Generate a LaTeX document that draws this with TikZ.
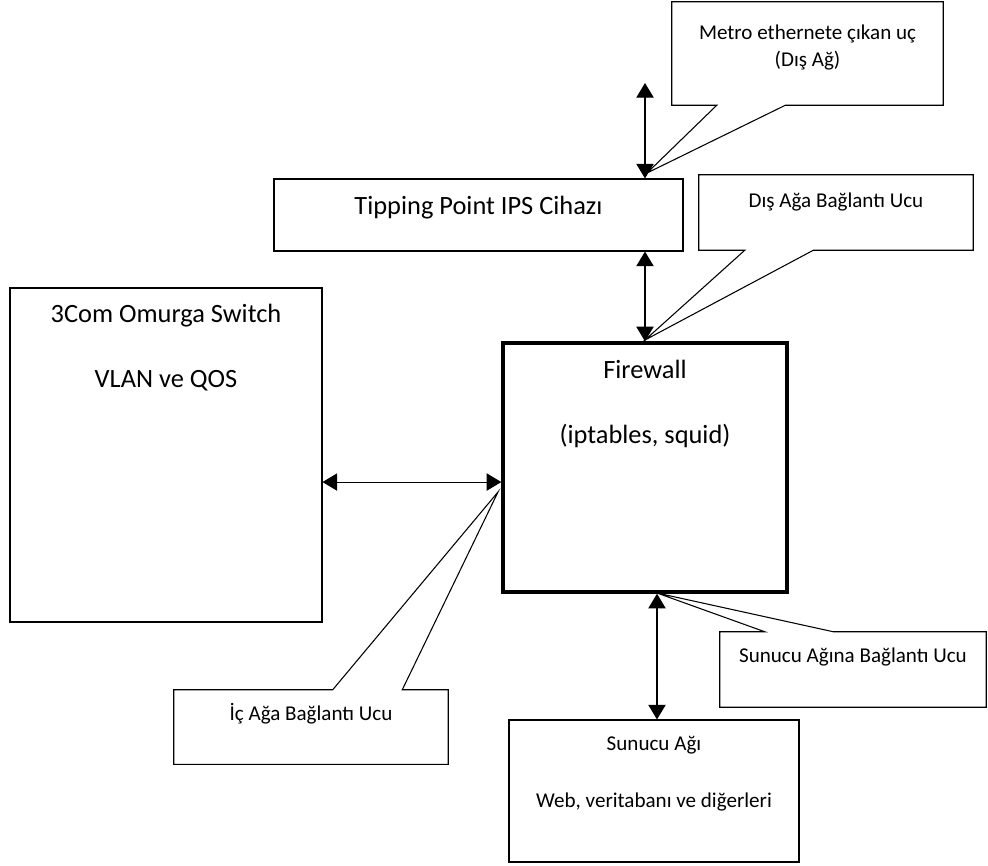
\documentclass[tikz,border=0pt]{standalone}
\usepackage{fontspec}
\setmainfont{Carlito}
\usetikzlibrary{arrows.meta}

\begin{document}
\begin{tikzpicture}[x=0.75pt, y=-0.75pt,
	box/.style={draw, line width=0.8pt, inner sep=0pt},
	firebox/.style={draw, line width=2.6pt, inner sep=0pt},
	note/.style={inner sep=0pt},
	outline/.style={line width=0.8pt, line join=miter},
	bigtext/.style={font=\fontsize{19.8}{24}\selectfont, inner sep=0pt, anchor=base},
	smalltext/.style={font=\fontsize{15.8}{19}\selectfont, inner sep=0pt, anchor=base},
	link/.style={{Triangle[length=11pt,width=13pt]}-{Triangle[length=11pt,width=13pt]}, line width=0.8pt}]
	\useasboundingbox (0,0) rectangle (988,865);

	\node[note, minimum width=203.25pt, minimum height=77.25pt] (metro) at (807.5,53.5) {};
	\node[note, minimum width=205.5pt, minimum height=56.25pt] (dis) at (836,212.5) {};
	\node[note, minimum width=205.5pt, minimum height=55.5pt] (ic) at (311,727) {};
	\node[note, minimum width=199.5pt, minimum height=56.25pt] (srvport) at (853,669.5) {};
	\coordinate (metrotip) at (647,173);
	\coordinate (distip) at (645,340);
	\coordinate (ictip) at (498,492);
	\coordinate (srvporttip) at (657,593);

	\draw[outline] ([xshift=33.75pt]metro.south west) -- (metro.south west) -- (metro.north west) -- (metro.north east) -- (metro.south east) -- ([xshift=-118.5pt]metro.south east) -- (metrotip) -- cycle;
	\draw[outline] ([xshift=34.5pt]dis.south west) -- (dis.south west) -- (dis.north west) -- (dis.north east) -- (dis.south east) -- ([xshift=-120pt]dis.south east) -- (distip) -- cycle;
	\draw[outline] ([xshift=119.25pt]ic.north west) -- (ic.north west) -- (ic.south west) -- (ic.south east) -- (ic.north east) -- ([xshift=-34.5pt]ic.north east) -- (ictip) -- cycle;
	\draw[outline] ([xshift=33.75pt]srvport.north west) -- (srvport.north west) -- (srvport.south west) -- (srvport.south east) -- (srvport.north east) -- ([xshift=-114.75pt]srvport.north east) -- (srvporttip) -- cycle;

	\node[box, minimum width=234pt, minimum height=250.5pt] (sw) at (166,455) {};
	\node[firebox, minimum width=213pt, minimum height=186.75pt] (fw) at (645,467.5) {};
	\node[box, minimum width=306.75pt, minimum height=54pt] (ips) at (478.5,215) {};
	\node[box, minimum width=217.5pt, minimum height=106.5pt] (srv) at (654,791) {};

	\node[smalltext] (metroa) at ([yshift=-28pt]metro.north) {Metro ethernete çıkan uç};
	\node[smalltext] (metrob) at ([yshift=-20.5pt]metroa.base) {(Dış Ağ)};
	\node[smalltext] (disa) at ([yshift=-24.5pt]dis.north) {Dış Ağa Bağlantı Ucu};
	\node[smalltext] (ica) at ([yshift=-23.25pt]ic.north) {İç Ağa Bağlantı Ucu};
	\node[smalltext] (srvporta) at ([yshift=-23.25pt]srvport.north) {Sunucu Ağına Bağlantı Ucu};

	\node[bigtext] (swa) at ([yshift=-26.25pt]sw.north) {3Com Omurga Switch};
	\node[bigtext] (swb) at ([yshift=-48.75pt]swa.base) {VLAN ve QOS};
	\node[bigtext] (fwa) at ([yshift=-27.75pt]fw.north) {Firewall};
	\node[bigtext] (fwb) at ([yshift=-48.75pt]fwa.base) {(iptables, squid)};
	\node[bigtext] (ipsa) at ([yshift=-27pt]ips.north) {Tipping Point IPS Cihazı};
	\node[smalltext] (srva) at ([yshift=-23.25pt]srv.north) {Sunucu Ağı};
	\node[smalltext] (srvb) at ([yshift=-42.75pt]srva.base) {Web, veritabanı ve diğerleri};

	\coordinate (up) at (645,83);
	\draw[link] (up) -- (up |- ips.north);
	\draw[link] (ips.south -| fw.north) -- (fw.north);
	\draw[link] ([yshift=-10.9pt]fw.west) -- ([yshift=-10.9pt]fw.west -| sw.east);
	\draw[link] ([xshift=9pt]fw.south) -- ([xshift=9pt]fw.south |- srv.north);
\end{tikzpicture}
\end{document}
